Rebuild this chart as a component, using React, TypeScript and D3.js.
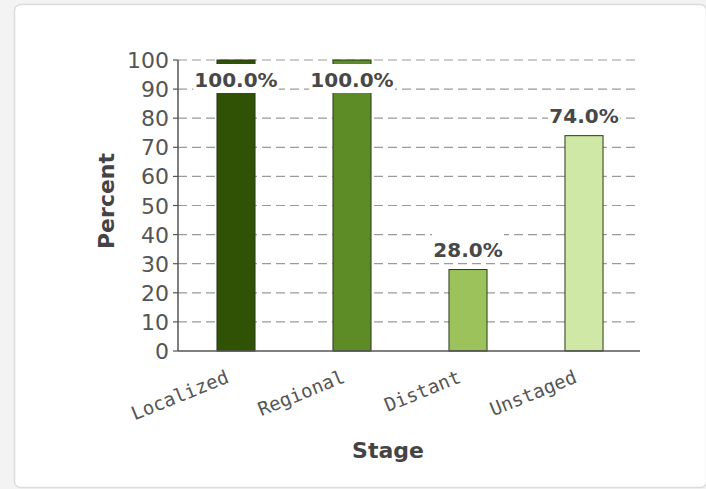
import React from "react";
import * as d3 from "d3";

const categories = ["Localized", "Regional", "Distant", "Unstaged"];
const values = [100.0, 100.0, 28.0, 74.0];
const barColors = ["#2f5205", "#5d8c26", "#9cc25c", "#cfe8a6"];
const yTicks = [0, 10, 20, 30, 40, 50, 60, 70, 80, 90, 100];
const gridTicks = [10, 20, 30, 40, 50, 60, 70, 80, 90, 100];
const yLabel = "Percent";
const xLabel = "Stage";

const W = 706;
const H = 489;
const left = 178;
const right = 642;
const top = 60;
const bottom = 351;

export default function App() {
  const x = d3.scaleBand<string>().domain(categories).range([left, right]).paddingInner(0.672).paddingOuter(0.336);
  const y = d3.scaleLinear().domain([0, 100]).range([bottom, top]);
  const bw = x.bandwidth();
  const fmt = d3.format(".1f");

  return (
    <svg width={W} height={H} style={{ position: "fixed", left: 0, top: 0, background: "#f3f3f3" }}>
      <rect x={14.5} y={4.5} width={W - 14} height={H - 6} rx={6} fill="#ffffff" stroke="#dcdcdc" strokeWidth={1.5} />
      {/* gridlines */}
      {gridTicks.map((t) => (
        <line key={"g" + t} x1={left} x2={637} y1={y(t)} y2={y(t)} stroke="#9a9a9a" strokeWidth={1.2} strokeDasharray="9,5" />
      ))}
      {/* bars */}
      {categories.map((c, i) => (
        <rect key={c} x={x(c)!} y={y(values[i])} width={bw} height={y(0) - y(values[i])} fill={barColors[i]} stroke="#2b3a18" strokeWidth={1} />
      ))}
      {/* value labels */}
      {categories.map((c, i) => {
        const cx = x(c)! + bw / 2;
        const above = y(values[i]) - 12.5;
        const base = above - 18 < top ? y(values[i]) + 27 : above;
        const label = fmt(values[i]) + "%";
        const tw = label.length * 13.6 + 4;
        return (
          <g key={"l" + c}>
            <rect x={cx - tw / 2} y={base - 23} width={tw} height={29} fill="#ffffff" />
            <text x={cx} y={base} textAnchor="middle" fontFamily="DejaVu Sans" fontWeight="bold" fontSize={20} fill="#484848">
              {label}
            </text>
          </g>
        );
      })}
      {/* y axis */}
      <line x1={left} x2={left} y1={top} y2={bottom} stroke="#555" strokeWidth={1.5} />
      {yTicks.map((t) => (
        <g key={"t" + t}>
          <line x1={left - 5} x2={left} y1={y(t)} y2={y(t)} stroke="#555" strokeWidth={1.2} />
          <text x={left - 9} y={y(t) + 8} textAnchor="end" fontFamily="DejaVu Sans" fontSize={22} fill="#555555">
            {t}
          </text>
        </g>
      ))}
      {/* x axis */}
      <line x1={left} x2={640} y1={bottom} y2={bottom} stroke="#555" strokeWidth={1.5} />
      {categories.map((c) => {
        const cx = x(c)! + bw / 2;
        return (
          <text key={"x" + c} transform={`translate(${cx - 6},${bottom + 31}) rotate(-22)`} textAnchor="end" fontFamily="DejaVu Sans Mono" fontSize={19} fill="#555555">
            {c}
          </text>
        );
      })}
      <text transform={`translate(114,201) rotate(-90)`} textAnchor="middle" fontFamily="DejaVu Sans" fontWeight="bold" fontSize={22} fill="#444444">
        {yLabel}
      </text>
      <text x={388} y={458} textAnchor="middle" fontFamily="DejaVu Sans" fontWeight="bold" fontSize={22} fill="#444444">
        {xLabel}
      </text>
    </svg>
  );
}
